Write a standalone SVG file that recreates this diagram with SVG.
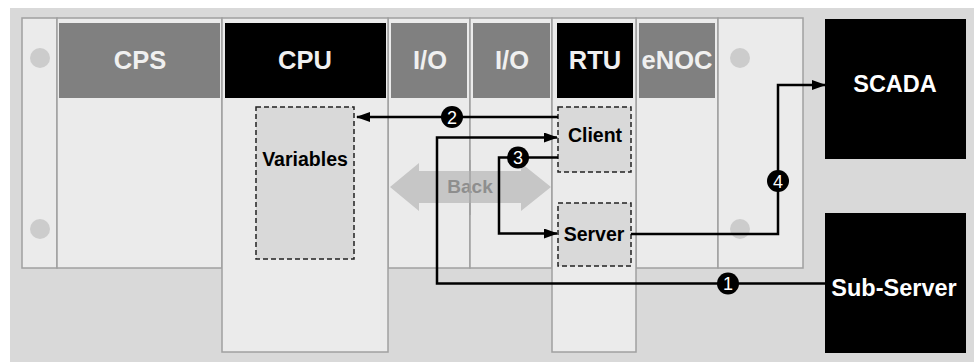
<svg xmlns="http://www.w3.org/2000/svg" width="974" height="362" viewBox="0 0 974 362">
<style>
.slot{fill:#ebebeb;stroke:#a0a0a0;stroke-width:1.5}
.hdr{fill:#808080}
.hdrk{fill:#000}
.ht{font-family:"Liberation Sans",Arial,sans-serif;font-weight:bold;font-size:25.5px;fill:#f0f0f0;text-anchor:middle}
.dash{fill:#d9d9d9;stroke:#222;stroke-width:1.5;stroke-dasharray:5,3}
.lbl{font-family:"Liberation Sans",Arial,sans-serif;font-weight:bold;font-size:19.5px;fill:#000;text-anchor:middle}
.ext{fill:#000}
.et{font-family:"Liberation Sans",Arial,sans-serif;font-weight:bold;font-size:23.5px;fill:#fff;text-anchor:middle}
.led{fill:#cccccc}
.wire{fill:none;stroke:#000;stroke-width:2.5}
.badge circle{fill:#000}
.badge text{font-family:"Liberation Sans",Arial,sans-serif;font-size:18px;fill:#fff;text-anchor:middle}
</style>
<defs>
<marker id="ah" markerWidth="14" markerHeight="10" refX="13" refY="5" orient="auto" markerUnits="userSpaceOnUse">
<path d="M0,0 L14,5 L0,10 Z" fill="#000"/>
</marker>
</defs>
<rect x="10" y="8" width="964" height="354" fill="#d9d9d9"/>

<g id="rack">
<rect class="slot" x="22" y="18" width="35" height="250"/>
<circle class="led" cx="40" cy="58" r="10"/>
<circle class="led" cx="40" cy="229" r="10"/>
<rect class="slot" x="57" y="18" width="165" height="250"/>
<rect class="slot" x="388" y="18" width="82" height="250"/>
<rect class="slot" x="470" y="18" width="82" height="250"/>
<rect class="slot" x="636" y="18" width="82" height="250"/>
<rect class="slot" x="718" y="18" width="85" height="250"/>
<circle class="led" cx="740" cy="58" r="10"/>
<circle class="led" cx="740" cy="229" r="10"/>
</g>

<g id="cps">
<rect class="hdr" x="59" y="23" width="161" height="75"/>
<text class="ht" x="140" y="69">CPS</text>
</g>

<g id="cpu">
<rect class="slot" x="222" y="18" width="166" height="334"/>
<rect class="hdrk" x="225" y="23" width="161" height="75"/>
<text class="ht" x="305" y="69">CPU</text>
</g>

<g id="io1">
<rect class="hdr" x="391" y="23" width="76" height="75"/>
<text class="ht" x="430" y="69">I/O</text>
</g>

<g id="io2">
<rect class="hdr" x="473" y="23" width="77" height="75"/>
<text class="ht" x="512" y="69">I/O</text>
</g>

<g id="rtu">
<rect class="slot" x="552" y="18" width="84" height="334"/>
<rect class="hdrk" x="557" y="23" width="76" height="75"/>
<text class="ht" x="595" y="69">RTU</text>
</g>

<g id="enoc">
<rect class="hdr" x="639" y="23" width="76" height="75"/>
<text class="ht" x="677" y="69" font-size="24">eNOC</text>
</g>

<g id="back">
<path d="M390,187 L419,163 L419,171 L521,171 L521,163 L551,187 L521,211 L521,203 L419,203 L419,211 Z" fill="#c6c6c6"/>
<text x="470" y="193" font-family="Liberation Sans, Arial, sans-serif" font-weight="bold" font-size="19" fill="#8e8e8e" text-anchor="middle">Back</text>
<line x1="470" y1="160" x2="470" y2="215" stroke="#a0a0a0" stroke-width="1.5"/>
</g>

<g id="variables">
<rect class="dash" x="256" y="107" width="98" height="152"/>
<text class="lbl" x="305" y="166" font-size="21.5">Variables</text>
</g>

<g id="client">
<rect class="dash" x="558" y="107" width="73" height="65"/>
<text class="lbl" x="595" y="142">Client</text>
</g>

<g id="server">
<rect class="dash" x="558" y="203" width="73" height="63"/>
<text class="lbl" x="594" y="241">Server</text>
</g>

<g id="scada">
<rect class="ext" x="825" y="19" width="141" height="140"/>
<text class="et" x="895" y="92">SCADA</text>
</g>

<g id="subserver">
<rect class="ext" x="825" y="213" width="141" height="140"/>
<text class="et" x="894" y="296" font-size="25">Sub-Server</text>
</g>

<g id="connectors">
<path class="wire" d="M558,117 L357,117" marker-end="url(#ah)"/>
<path class="wire" d="M825,283.5 L437,283.5 L437,137.5 L557,137.5" marker-end="url(#ah)"/>
<path class="wire" d="M558,157.5 L499,157.5 L499,233.5 L557,233.5" marker-end="url(#ah)"/>
<path class="wire" d="M631,234 L778,234 L778,85 L825,85" marker-end="url(#ah)"/>
<g class="badge"><circle cx="728" cy="283.5" r="11"/><text x="728" y="290">1</text></g>
<g class="badge"><circle cx="452" cy="117" r="11"/><text x="452" y="123.5">2</text></g>
<g class="badge"><circle cx="518" cy="157.5" r="11"/><text x="518" y="164">3</text></g>
<g class="badge"><circle cx="778" cy="181" r="11"/><text x="778" y="187.5">4</text></g>
</g>
</svg>
